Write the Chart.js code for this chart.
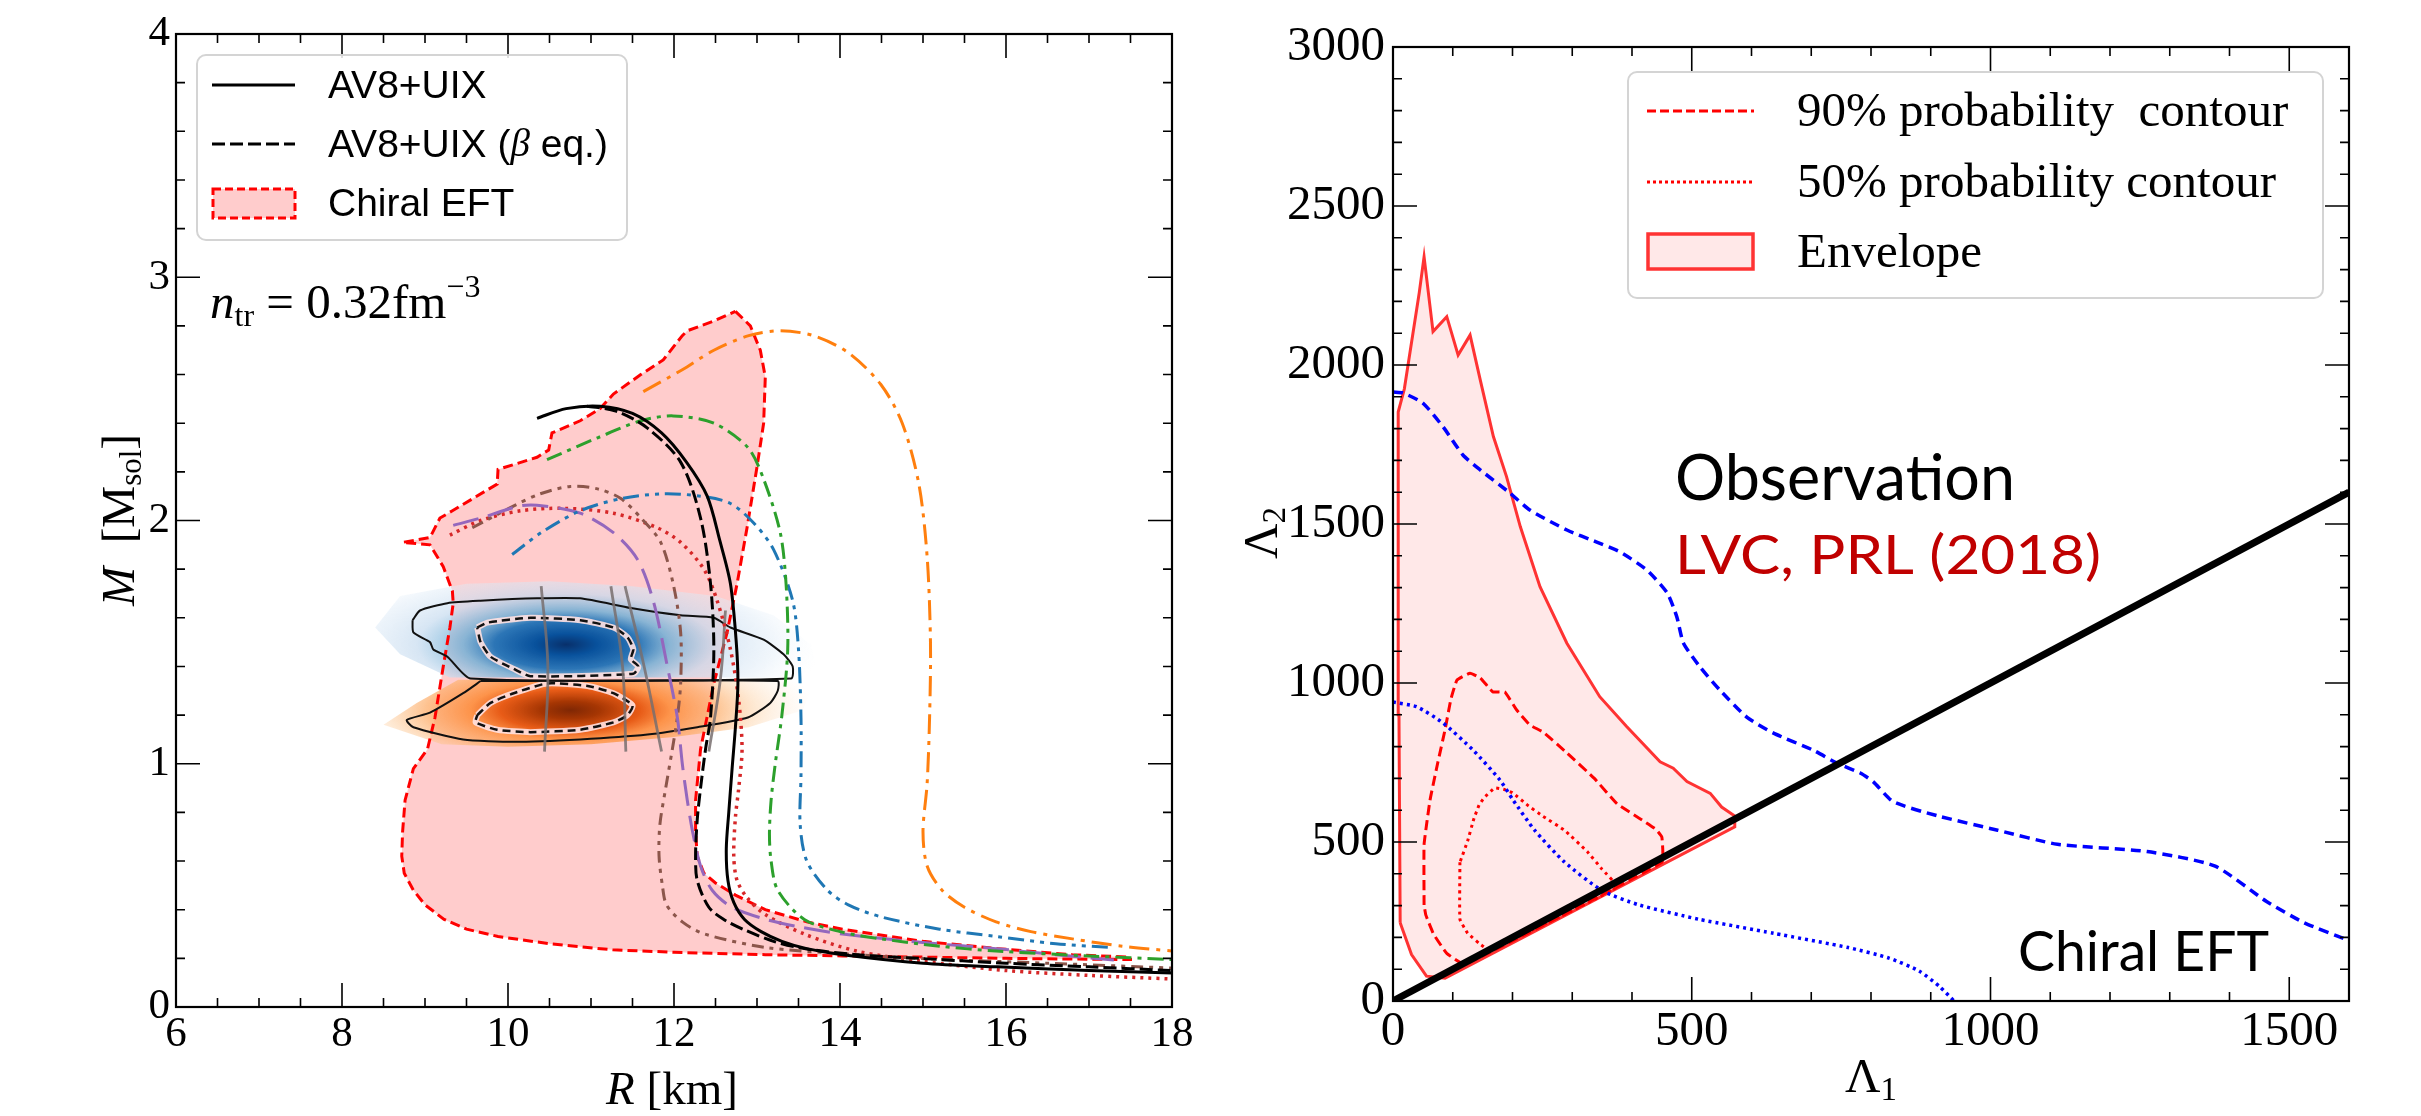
<!DOCTYPE html>
<html>
<head>
<meta charset="utf-8">
<script src="https://cdn.jsdelivr.net/npm/chart.js@4.4.1/dist/chart.umd.min.js"></script>
<style>
    html, body { margin: 0; padding: 0; background: #fff; }
    #wrap { position: relative; width: 2421px; height: 1116px; overflow: hidden; }
    canvas { position: absolute; top: 0; }
</style>
</head>
<body>
<div id="wrap">
    <canvas id="mr" width="1230" height="1116" style="left:0"></canvas>
    <canvas id="tidal" width="1191" height="1116" style="left:1230px"></canvas>
</div>
<script>
(function(){

    // ---------- left panel: M(R) ----------
    var rTicks = [6, 8, 10, 12, 14, 16, 18];
    var mTicks = [0, 1, 2, 3, 4];

    // chiral EFT envelope (closed outline)
    var eftR = [12.74,12.92,13.04,13.10,13.08,13.00,12.88,12.76,12.64,12.48,12.32,12.26,12.26,12.28,12.36,12.50,12.74,13.10,13.60,14.03,15.00,15.90,16.80,17.50,
                17.50,16.80,16.00,15.00,14.03,13.10,12.00,11.26,10.50,9.88,9.50,9.23,9.00,8.86,8.75,8.72,8.73,8.76,8.86,9.03,9.12,9.22,9.30,9.34,9.33,9.22,9.06,8.73,9.06,9.18,
                9.33,9.87,9.88,10.35,10.49,10.53,10.87,11.11,11.27,11.60,11.87,12.10,12.16,12.48,12.74];
    var eftM = [2.86,2.80,2.70,2.59,2.40,2.22,1.97,1.74,1.54,1.33,1.06,0.85,0.72,0.62,0.55,0.51,0.46,0.40,0.35,0.32,0.27,0.24,0.215,0.205,
                0.195,0.197,0.200,0.205,0.21,0.215,0.225,0.235,0.26,0.29,0.32,0.36,0.42,0.48,0.55,0.62,0.72,0.85,0.98,1.06,1.19,1.40,1.56,1.66,1.71,1.81,1.90,1.91,1.93,2.01,
                2.04,2.15,2.21,2.26,2.29,2.36,2.41,2.46,2.52,2.60,2.66,2.76,2.78,2.82,2.86];

    var avR = [10.35,10.7,11.11,11.5,11.85,12.15,12.4,12.55,12.68,12.75,12.77,12.74,12.70,12.66,12.63,12.65,12.72,12.85,13.05,13.3,13.6,14.03,15.0,15.9,17.0,18.0];
    var avM = [2.42,2.46,2.47,2.44,2.36,2.24,2.1,1.92,1.74,1.50,1.33,1.15,0.98,0.80,0.65,0.52,0.43,0.36,0.31,0.27,0.24,0.215,0.18,0.165,0.15,0.14];
    var avBetaR = [10.95,11.3,11.68,12.08,12.32,12.44,12.48,12.44,12.38,12.32,12.28,12.26,12.28,12.42,12.6,12.83,13.2,13.57,14.2,14.95,16.0,17.0,18.0];
    var avBetaM = [2.47,2.45,2.38,2.24,2.01,1.74,1.47,1.19,1.06,0.90,0.77,0.62,0.52,0.41,0.36,0.32,0.27,0.24,0.215,0.2,0.18,0.165,0.15];

    var orangeR = [11.63,12.1,12.48,12.9,13.28,13.68,14.1,14.49,14.75,14.95,15.05,15.09,15.08,15.05,15.0,15.05,15.23,15.5,15.88,16.3,16.8,17.4,18.0];
    var orangeM = [2.53,2.62,2.70,2.76,2.78,2.76,2.69,2.56,2.4,2.15,1.85,1.50,1.2,0.92,0.72,0.58,0.48,0.41,0.35,0.31,0.28,0.25,0.23];
    var greenR = [10.47,11.08,11.6,11.99,12.48,12.89,13.08,13.28,13.35,13.37,13.3,13.22,13.17,13.15,13.17,13.25,13.57,14.0,14.5,15.2,15.88,17.0,18.0];
    var greenM = [2.25,2.34,2.41,2.43,2.40,2.30,2.17,1.95,1.74,1.47,1.2,1.0,0.85,0.71,0.6,0.48,0.36,0.31,0.28,0.25,0.23,0.21,0.195];
    var blueR = [10.05,10.4,10.87,11.36,11.87,12.32,12.68,12.96,13.2,13.43,13.5,13.53,13.53,13.52,13.6,13.85,14.1,14.5,15.2,15.88,16.6,17.24];
    var blueM = [1.86,1.95,2.04,2.09,2.11,2.10,2.07,1.99,1.88,1.67,1.47,1.19,0.95,0.75,0.6,0.48,0.42,0.37,0.32,0.29,0.26,0.245];
    var purpleR = [9.34,9.67,10.15,10.43,10.87,11.27,11.56,11.75,11.92,12.04,12.1,12.16,12.23,12.32,12.46,12.7,13.11,13.5,14.03,15.0,15.88,16.6,17.3];
    var purpleM = [1.98,2.01,2.06,2.06,2.03,1.95,1.84,1.67,1.40,1.19,1.0,0.85,0.71,0.58,0.48,0.41,0.36,0.33,0.30,0.265,0.24,0.215,0.193];
    var brownR = [9.57,10.07,10.39,10.75,11.08,11.36,11.63,11.84,11.99,12.08,12.08,12.04,11.98,11.9,11.83,11.82,11.86,11.91,12.1,12.37,13.1,14.0,14.95,16.5,18.0];
    var brownM = [1.97,2.06,2.11,2.14,2.13,2.09,2.0,1.91,1.74,1.54,1.33,1.19,1.06,0.9,0.75,0.62,0.5,0.42,0.35,0.30,0.245,0.22,0.2,0.18,0.16];
    var redR = [9.3,9.67,10.15,10.67,11.27,11.8,12.08,12.36,12.52,12.68,12.78,12.82,12.78,12.74,12.72,12.76,12.88,13.1,13.57,14.2,14.95,16.0,17.0,18.0];
    var redM = [1.94,2.0,2.04,2.05,2.03,1.97,1.91,1.80,1.67,1.47,1.26,1.06,0.9,0.78,0.62,0.52,0.45,0.38,0.30,0.23,0.19,0.15,0.13,0.115];

    // GW170817 posterior contours (heavy / light star)
    var blueOuterR = [8.85,8.94,9.27,9.67,10.35,10.87,11.48,12.08,12.48,12.68,13.08,13.32,13.43,13.41,9.55,9.27,9.10,9.06,8.86,8.85];
    var blueOuterM = [1.59,1.63,1.66,1.67,1.68,1.68,1.64,1.61,1.60,1.56,1.51,1.45,1.40,1.35,1.35,1.44,1.47,1.50,1.54,1.59];
    var blueInnerR = [9.63,9.75,10.27,10.87,11.27,11.44,11.51,11.48,11.57,11.51,10.27,10.07,9.79,9.67,9.63];
    var blueInnerM = [1.56,1.58,1.60,1.59,1.56,1.52,1.47,1.43,1.40,1.37,1.36,1.39,1.44,1.50,1.56];
    var orangeOuterR = [9.67,13.25,13.25,13.16,12.89,12.28,11.68,10.87,10.07,9.46,8.86,8.78,9.06,9.46,9.67];
    var orangeOuterM = [1.34,1.34,1.30,1.25,1.19,1.15,1.12,1.10,1.09,1.10,1.15,1.18,1.21,1.29,1.34];
    var orangeInnerR = [9.63,9.79,10.07,10.47,10.96,11.27,11.50,11.44,11.27,10.87,10.27,9.87,9.61,9.63];
    var orangeInnerM = [1.20,1.25,1.29,1.33,1.32,1.29,1.24,1.20,1.17,1.14,1.13,1.14,1.17,1.20];
    var blueHaloR = [8.4,8.7,9.5,10.5,11.5,12.5,13.2,13.65,13.75,9.3,8.7,8.4];
    var blueHaloM = [1.56,1.69,1.74,1.75,1.73,1.69,1.61,1.49,1.355,1.355,1.45,1.56];
    var orangeHaloR = [8.5,8.9,9.4,13.4,13.65,13.55,12.9,12.0,11.0,10.0,9.2,8.5];
    var orangeHaloM = [1.16,1.25,1.345,1.345,1.30,1.22,1.15,1.11,1.08,1.07,1.08,1.16];
    var bluePeak = [10.7, 1.49], blueSpread = [3.1, 0.36];
    var orangePeak = [10.75, 1.22], orangeSpread = [3.0, 0.30];

    // grey constant-Lambda lines
    var greyM = [1.73, 1.40, 1.05];
    var grey1R = [10.40, 10.48, 10.44];
    var grey2R = [11.24, 11.38, 11.42];
    var grey3R = [11.41, 11.64, 11.85];
    var grey4R = [12.62, 12.56, 12.42];
    var grey4M = [1.63, 1.35, 1.05];

    // ---------- right panel: Lambda1 - Lambda2 ----------
    var l1Ticks = [0, 500, 1000, 1500];
    var l2Ticks = [0, 500, 1000, 1500, 2000, 2500, 3000];

    var envL1 = [12,10,9,8.4,19,31,44,52,67,90,109,129,146,168,190,213,246,291,346,391,447,469,492,531,550,572,572,87,56,31,12];
    var envL2 = [246,900,1500,1852,1925,2071,2228,2340,2105,2152,2031,2094,1953,1775,1649,1492,1303,1125,957,863,752,732,690,653,610,582,548,72,78,146,246];
    var c90L1 = [52,52,62,75,87,97,107,129,146,167,187,207,229,251,291,337,375,412,440,450,450,120,90,68,55,52];
    var c90L2 = [302,492,632,750,852,950,1009,1031,1016,972,972,915,868,846,780,700,620,575,540,515,436,115,150,210,270,302];
    var c50L1 = [112,112,125,145,162,375,350,325,287,250,225,200,185,170,152,144,135,125,112];
    var c50L2 = [436,257,213,180,160,358,414,470,537,582,616,655,666,670,638,616,571,504,436];
    var eftUpL1 = [0,17,50,84,117,146,196,229,291,341,380,425,459,475,486,514,547,592,636,703,743,782,804,837,912,1012,1112,1262,1375,1462,1525,1600];
    var eftUpL2 = [1915,1912,1880,1805,1717,1670,1597,1544,1481,1443,1412,1355,1283,1208,1126,1050,978,893,843,789,748,717,689,627,582,537,493,470,425,313,246,190];
    var eftLoL1 = [0,40,84,134,179,201,237,287,350,412,512,637,762,830,880,915,939];
    var eftLoL2 = [940,925,874,789,695,632,537,437,347,302,257,213,168,135,95,45,0];
    var eqL1 = [0, 1600];
    var eqL2 = [0, 1600];

    var SERIF = '"Liberation Serif", "DejaVu Serif", serif';
    var SANS = '"Liberation Sans", "DejaVu Sans", sans-serif';

    function pts(xs, ys) {
        return xs.map(function (v, i) { return { x: v, y: ys[i] }; });
    }

    function curve(xs, ys, color, dash, width, tension) {
        return {
            data: pts(xs, ys), showLine: true, fill: false, pointRadius: 0,
            borderColor: color, borderDash: dash || [], borderWidth: width || 3,
            tension: tension === undefined ? 0.3 : tension
        };
    }

    function area(xs, ys, fillColor, lineColor, dash, width) {
        return {
            data: pts(xs, ys), showLine: true, fill: 'shape', pointRadius: 0,
            backgroundColor: fillColor, borderColor: lineColor || 'rgba(0,0,0,0)',
            borderDash: dash || [], borderWidth: width === undefined ? 3 : width, tension: 0
        };
    }

    // elliptical density pattern, placed through the chart scales
    function densityFill(peak, spread, stops) {
        var cache = null;
        return function (context) {
            var chart = context.chart;
            if (cache) return cache;
            if (!chart.chartArea || !chart.scales.x) return 'rgba(0,0,0,0)';
            var xs = chart.scales.x, ys = chart.scales.y;
            var px = xs.getPixelForValue(peak[0]), py = ys.getPixelForValue(peak[1]);
            var ax = xs.getPixelForValue(peak[0] + spread[0]) - px;
            var ay = py - ys.getPixelForValue(peak[1] + spread[1]);
            var off = document.createElement('canvas');
            off.width = chart.width; off.height = chart.height;
            var g = off.getContext('2d');
            g.translate(px, py);
            g.scale(ax / ay, 1);
            var grad = g.createRadialGradient(0, 0, 0, 0, 0, ay);
            stops.forEach(function (s) { grad.addColorStop(s[0], s[1]); });
            g.fillStyle = grad;
            g.fillRect(-5000, -5000, 10000, 10000);
            cache = chart.ctx.createPattern(off, 'no-repeat');
            return cache;
        };
    }

    function frameTicks(xMajor, xStep, yMajor, yStep) {
        return {
            id: 'frameTicks',
            afterDatasetsDraw: function (chart) {
                var ctx = chart.ctx, a = chart.chartArea;
                var xs = chart.scales.x, ys = chart.scales.y;
                var isMajor = function (v, arr) {
                    return arr.some(function (m) { return Math.abs(m - v) < 1e-6; });
                };
                ctx.save();
                ctx.strokeStyle = '#000';
                ctx.lineWidth = 1.6;
                var nx = Math.round((xs.max - xs.min) / xStep);
                for (var i = 0; i <= nx; i++) {
                    var v = xs.min + i * xStep;
                    var len = isMajor(v, xMajor) ? 24 : 9;
                    var p = xs.getPixelForValue(v);
                    ctx.beginPath();
                    ctx.moveTo(p, a.bottom); ctx.lineTo(p, a.bottom - len);
                    ctx.moveTo(p, a.top); ctx.lineTo(p, a.top + len);
                    ctx.stroke();
                }
                var ny = Math.round((ys.max - ys.min) / yStep);
                for (var j = 0; j <= ny; j++) {
                    var w = ys.min + j * yStep;
                    var ln = isMajor(w, yMajor) ? 24 : 9;
                    var q = ys.getPixelForValue(w);
                    ctx.beginPath();
                    ctx.moveTo(a.left, q); ctx.lineTo(a.left + ln, q);
                    ctx.moveTo(a.right, q); ctx.lineTo(a.right - ln, q);
                    ctx.stroke();
                }
                ctx.lineWidth = 2.2;
                ctx.strokeRect(a.left, a.top, a.right - a.left, a.bottom - a.top);
                ctx.restore();
            }
        };
    }

    // text made of runs with different fonts / offsets
    function drawRuns(ctx, x, y, runs, align) {
        var total = 0;
        runs.forEach(function (r) { ctx.font = r[1]; total += ctx.measureText(r[0]).width; });
        var cx = align === 'center' ? x - total / 2 : x;
        runs.forEach(function (r) {
            ctx.font = r[1];
            ctx.fillText(r[0], cx, y + (r[2] || 0));
            cx += ctx.measureText(r[0]).width;
        });
    }

    function fitText(ctx, txt, x, base, capH, width, color) {
        ctx.save();
        ctx.font = Math.round(capH / 0.72) + 'px Lato, "Open Sans", sans-serif';
        var w = ctx.measureText(txt).width;
        ctx.translate(x, base);
        ctx.scale(width / w, 1);
        ctx.fillStyle = color;
        ctx.textAlign = 'left';
        ctx.textBaseline = 'alphabetic';
        ctx.fillText(txt, 0, 0);
        ctx.restore();
    }

    function legendBox(ctx, x, y, w, h) {
        ctx.save();
        ctx.beginPath();
        ctx.roundRect(x, y, w, h, 9);
        ctx.fillStyle = 'rgba(255,255,255,0.85)';
        ctx.fill();
        ctx.strokeStyle = '#d4d4d4';
        ctx.lineWidth = 2;
        ctx.stroke();
        ctx.restore();
    }

    function sampleLine(ctx, x0, x1, y, color, dash, width) {
        ctx.save();
        ctx.strokeStyle = color;
        ctx.lineWidth = width;
        ctx.setLineDash(dash);
        ctx.beginPath(); ctx.moveTo(x0, y); ctx.lineTo(x1, y); ctx.stroke();
        ctx.restore();
    }

    var mrDecor = {
        id: 'mrDecor',
        afterDraw: function (chart) {
            var ctx = chart.ctx;
            ctx.save();
            ctx.fillStyle = '#000';
            ctx.textBaseline = 'alphabetic';

            // legend
            legendBox(ctx, 197, 55, 430, 185);
            sampleLine(ctx, 212, 295, 85, '#000', [], 3.2);
            sampleLine(ctx, 212, 295, 144, '#000', [13, 5], 3.2);
            ctx.save();
            ctx.fillStyle = '#ffcccc';
            ctx.fillRect(213, 189, 82, 29);
            ctx.strokeStyle = '#ff0000'; ctx.lineWidth = 3; ctx.setLineDash([8, 4]);
            ctx.strokeRect(213, 189, 82, 29);
            ctx.restore();
            ctx.textBaseline = 'middle';
            drawRuns(ctx, 328, 87, [['AV8+UIX', '39px ' + SANS]]);
            drawRuns(ctx, 328, 146, [['AV8+UIX (', '39px ' + SANS], ['\u03B2', 'italic 39px ' + SERIF], [' eq.)', '39px ' + SANS]]);
            drawRuns(ctx, 328, 205, [['Chiral EFT', '39px ' + SANS]]);
            ctx.textBaseline = 'alphabetic';

            // transition density
            drawRuns(ctx, 210, 318, [
                ['n', 'italic 49px ' + SERIF],
                ['tr', '32px ' + SERIF, 8],
                [' = 0.32fm', '49px ' + SERIF],
                ['\u22123', '32px ' + SERIF, -21]
            ]);

            // axis titles
            drawRuns(ctx, 672, 1104, [['R', 'italic 47px ' + SERIF], [' [km]', '47px ' + SERIF]], 'center');
            ctx.save();
            ctx.translate(119, 520);
            ctx.rotate(-Math.PI / 2);
            drawRuns(ctx, 0, 15, [
                ['M', 'italic 47px ' + SERIF],
                ['  [M', '47px ' + SERIF],
                ['sol', '31px ' + SERIF, 7],
                [']', '47px ' + SERIF]
            ], 'center');
            ctx.restore();
            ctx.restore();
        }
    };

    var tidalDecor = {
        id: 'tidalDecor',
        afterDraw: function (chart) {
            var ctx = chart.ctx;
            var ox = 1230;
            ctx.save();
            ctx.fillStyle = '#000';

            legendBox(ctx, 1628 - ox, 72, 695, 226);
            sampleLine(ctx, 1647 - ox, 1754 - ox, 111, '#ff0000', [9, 4], 3);
            sampleLine(ctx, 1647 - ox, 1754 - ox, 182, '#ff0000', [3, 3], 3);
            ctx.save();
            ctx.fillStyle = '#ffe8e8';
            ctx.fillRect(1648 - ox, 234, 105, 35);
            ctx.strokeStyle = '#ff3333'; ctx.lineWidth = 3.5;
            ctx.strokeRect(1648 - ox, 234, 105, 35);
            ctx.restore();
            ctx.textBaseline = 'middle';
            drawRuns(ctx, 1797 - ox, 113, [['90% probability  contour', '49px ' + SERIF]]);
            drawRuns(ctx, 1797 - ox, 184, [['50% probability contour', '49px ' + SERIF]]);
            drawRuns(ctx, 1797 - ox, 254, [['Envelope', '49px ' + SERIF]]);
            ctx.textBaseline = 'alphabetic';

            fitText(ctx, 'Observation', 1675 - ox, 500, 46, 340, '#000');
            fitText(ctx, 'LVC, PRL (2018)', 1675 - ox, 574, 39, 426, '#c00000');
            fitText(ctx, 'Chiral EFT', 2018 - ox, 971, 41, 251, '#000');

            drawRuns(ctx, 1871 - ox, 1092, [['\u039B', '49px ' + SERIF], ['1', '33px ' + SERIF, 8]], 'center');
            ctx.save();
            ctx.translate(1262 - ox, 533);
            ctx.rotate(-Math.PI / 2);
            drawRuns(ctx, 0, 15, [['\u039B', '49px ' + SERIF], ['2', '33px ' + SERIF, 8]], 'center');
            ctx.restore();
            ctx.restore();
        }
    };

    function axis(min, max, ticks, size, fitWidth, fitHeight, pad) {
        var o = {
            type: 'linear', min: min, max: max,
            grid: { display: false, drawTicks: false },
            border: { display: false },
            ticks: {
                color: '#000', padding: pad, autoSkip: false, maxRotation: 0,
                font: { family: SERIF, size: size },
                callback: function (v) { return String(v); }
            },
            afterBuildTicks: function (s) { s.ticks = ticks.map(function (v) { return { value: v }; }); }
        };
        if (fitWidth) o.afterFit = function (s) { s.width = fitWidth; };
        if (fitHeight) o.afterFit = function (s) { s.height = fitHeight; };
        return o;
    }

    var blueStops = [[0, 'rgba(8,48,107,1)'], [0.12, 'rgba(8,81,156,1)'], [0.28, 'rgba(33,113,181,0.95)'],
                     [0.4, 'rgba(107,174,214,0.8)'], [0.58, 'rgba(198,219,239,0.7)'], [0.8, 'rgba(222,235,247,0.45)'], [1, 'rgba(247,251,255,0)']];
    var orangeStops = [[0, 'rgba(127,39,4,1)'], [0.12, 'rgba(166,54,3,1)'], [0.28, 'rgba(230,85,13,0.95)'],
                       [0.4, 'rgba(253,141,60,0.9)'], [0.58, 'rgba(253,174,107,0.75)'], [0.75, 'rgba(253,208,162,0.45)'], [1, 'rgba(254,237,222,0)']];

    var blueHalo = area(blueHaloR, blueHaloM, densityFill(bluePeak, blueSpread, blueStops), null, [], 0);
    var orangeHalo = area(orangeHaloR, orangeHaloM, densityFill(orangePeak, orangeSpread, orangeStops), null, [], 0);

    new Chart(document.getElementById('mr'), {
        type: 'scatter',
        data: {
            datasets: [
                curve(avR, avM, '#000000', [], 3),
                curve(avBetaR, avBetaM, '#000000', [13, 5], 3),
                curve(orangeR, orangeM, '#ff7f0e', [20, 7, 4, 7], 3),
                curve(greenR, greenM, '#2ca02c', [16, 6, 4, 6], 3),
                curve(blueR, blueM, '#1f77b4', [16, 6, 4, 6, 4, 6], 3),
                curve(purpleR, purpleM, '#9467bd', [26, 10], 3),
                curve(brownR, brownM, '#8c564b', [12, 6, 4, 6, 4, 6], 3),
                curve(redR, redM, '#d62728', [3, 5], 3.5),
                curve(grey1R, greyM, 'rgba(120,110,110,0.85)', [], 2.8, 0.4),
                curve(grey2R, greyM, 'rgba(120,110,110,0.85)', [], 2.8, 0.4),
                curve(grey3R, greyM, 'rgba(120,110,110,0.85)', [], 2.8, 0.4),
                curve(grey4R, grey4M, 'rgba(120,110,110,0.85)', [], 2.8, 0.4),
                curve(blueOuterR, blueOuterM, '#111', [], 2, 0.2),
                curve(orangeOuterR, orangeOuterM, '#111', [], 2, 0.2),
                curve(blueInnerR, blueInnerM, '#111', [8, 5], 2.5, 0.2),
                curve(orangeInnerR, orangeInnerM, '#111', [8, 5], 2.5, 0.2),
                curve(blueInnerR, blueInnerM, 'rgba(255,225,225,0.9)', [], 6, 0.2),
                curve(orangeInnerR, orangeInnerM, 'rgba(255,225,225,0.9)', [], 6, 0.2),
                blueHalo,
                orangeHalo,
                area(eftR, eftM, '#ffcccc', '#ff0000', [10, 5], 3)
            ]
        },
        options: {
            responsive: false, animation: false, devicePixelRatio: 1,
            layout: { padding: { left: 0, right: 58, top: 34, bottom: 0 } },
            plugins: { legend: { display: false }, tooltip: { enabled: false }, filler: { drawTime: 'beforeDatasetsDraw' } },
            scales: {
                x: axis(6, 18, rTicks, 43, 0, 109, 2),
                y: axis(0, 4, mTicks, 43, 176, 0, 6)
            }
        },
        plugins: [frameTicks(rTicks, 0.5, mTicks, 0.2), mrDecor]
    });

    new Chart(document.getElementById('tidal'), {
        type: 'scatter',
        data: {
            datasets: [
                curve(eqL1, eqL2, '#000000', [], 7, 0),
                curve(eftUpL1, eftUpL2, '#0000ff', [10, 6], 3.5, 0.2),
                curve(eftLoL1, eftLoL2, '#0000ff', [3, 4], 3.5, 0.2),
                curve(c90L1, c90L2, '#ff0000', [10, 5], 3, 0.1),
                curve(c50L1, c50L2, '#ff0000', [3, 4], 3, 0.1),
                area(envL1, envL2, 'rgba(255,0,0,0.09)', '#ff3333', [], 3)
            ]
        },
        options: {
            responsive: false, animation: false, devicePixelRatio: 1,
            layout: { padding: { left: 0, right: 72, top: 47, bottom: 0 } },
            plugins: { legend: { display: false }, tooltip: { enabled: false }, filler: { drawTime: 'beforeDatasetsDraw' } },
            scales: {
                x: axis(0, 1600, l1Ticks, 49, 0, 115, 2),
                y: axis(0, 3000, l2Ticks, 49, 163, 0, 8)
            }
        },
        plugins: [frameTicks(l1Ticks, 100, l2Ticks, 100), tidalDecor]
    });

})();
</script>
</body>
</html>
